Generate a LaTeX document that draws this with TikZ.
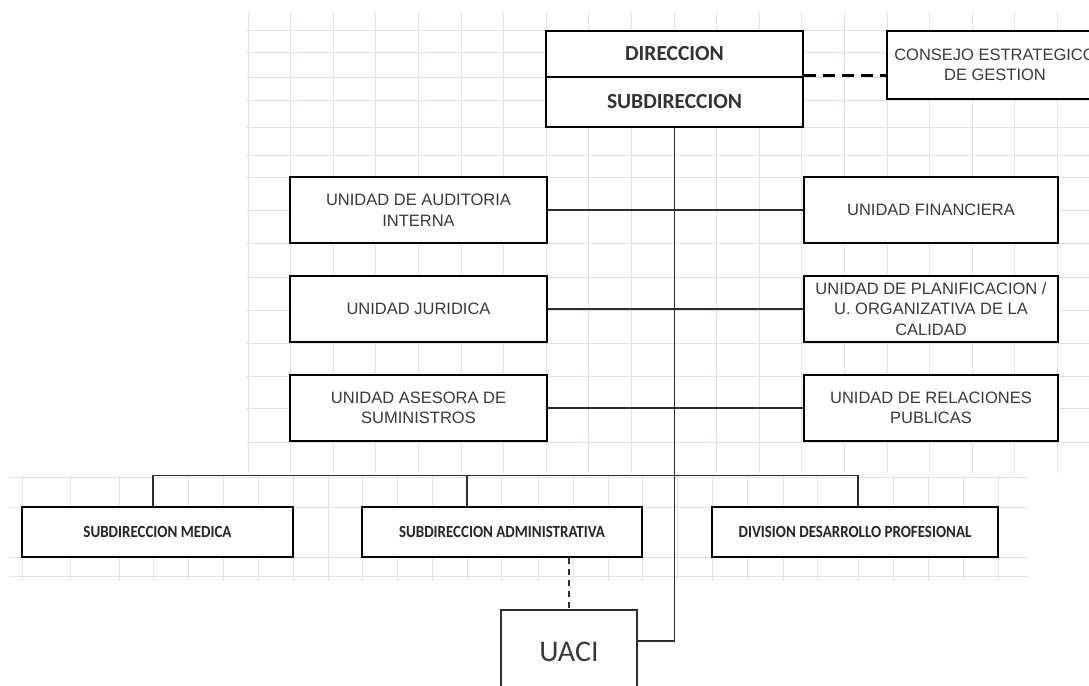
\documentclass[tikz,border=0pt]{standalone}
\usepackage{fontspec}
\setmainfont{Liberation Sans}
\newfontfamily\condfont[FakeStretch=0.88]{Carlito}
\newfontfamily\calfont{Carlito}
\definecolor{gridc}{HTML}{DFE2EA}
\definecolor{txt}{HTML}{3A3A3A}
\definecolor{linec}{HTML}{2E2E2E}
\begin{document}
\begin{tikzpicture}[x=1pt,y=-1pt,
  box/.style={draw=black, line width=2.6pt, fill=white, inner sep=0pt, align=center, text=txt, font=\fontsize{16.5}{20.5}\selectfont},
  headbox/.style={box, font=\calfont\bfseries\fontsize{21.5}{24}\selectfont, text=black!80},
  lowbox/.style={box, font=\condfont\bfseries\fontsize{17}{20}\selectfont, text=black!85},
  uacibox/.style={draw=linec, line width=1.5pt, fill=white, inner sep=0pt, font=\calfont\fontsize{30}{34}\selectfont, text=txt},
  conn/.style={draw=linec, line width=1.5pt},
  gridl/.style={draw=gridc, line width=1pt}]
\path[use as bounding box, clip] (0,0) rectangle (1089,685);
\fill[white] (0,0) rectangle (1089,685);
% grid (spreadsheet background)
\foreach \i in {0,...,19} \draw[gridl] ({248+42.6*\i},12) -- ({248+42.6*\i},473);
\foreach \y in {31,53,77,100,127,155,177,210,243,277,310,343,376,408,442} \draw[gridl] (246,\y) -- (1089,\y);
\foreach \y in {477,507,557,576} \draw[gridl] (9,\y) -- (1028,\y);
\foreach \x in {22,70,119,153,188,223,258,293,328,362,397,432,467,501,538,573,608,642,677,712,747,783,817,858,893,928,963,998} \draw[gridl] (\x,475) -- (\x,581);
% nodes
\node[headbox, minimum width=257pt, minimum height=46pt] (dir) at (674.5,54) {DIRECCION};
\node[headbox, minimum width=257pt, minimum height=50pt] (sub) at (674.5,102) {SUBDIRECCION};
\node[box, minimum width=216pt, minimum height=68pt] (cons) at (995,65) {CONSEJO ESTRATEGICO\\DE GESTION};
\node[box, minimum width=257pt, minimum height=66pt] (aud) at (418.5,210) {UNIDAD DE AUDITORIA\\INTERNA};
\node[box, minimum width=257pt, minimum height=66pt] (jur) at (418.5,309) {UNIDAD JURIDICA};
\node[box, minimum width=257pt, minimum height=66pt] (sum) at (418.5,408) {UNIDAD ASESORA DE\\SUMINISTROS};
\node[box, minimum width=254pt, minimum height=66pt] (fin) at (931,210) {UNIDAD FINANCIERA};
\node[box, minimum width=254pt, minimum height=66pt] (pla) at (931,309) {UNIDAD DE PLANIFICACION /\\U. ORGANIZATIVA DE LA\\CALIDAD};
\node[box, minimum width=254pt, minimum height=66pt] (rel) at (931,408) {UNIDAD DE RELACIONES\\PUBLICAS};
\node[lowbox, minimum width=271pt, minimum height=50pt] (med) at (157.5,532) {SUBDIRECCION MEDICA};
\node[lowbox, minimum width=280pt, minimum height=50pt] (sda) at (502,532) {SUBDIRECCION ADMINISTRATIVA};
\node[lowbox, minimum width=286pt, minimum height=50pt] (div) at (855,532) {DIVISION DESARROLLO PROFESIONAL};
\node[uacibox, minimum width=136pt, minimum height=84pt] (uaci) at (569,652) {UACI};
% helper coordinates
\coordinate (xm) at (153,0);
\coordinate (xs) at (467,0);
\coordinate (xd) at (858,0);
\coordinate (xu) at (569,0);
\coordinate (uj) at (637,641);
% connectors
\draw[black, line width=3pt, dash pattern=on 12pt off 7pt] (sub.north east) -- (sub.north east -| cons.west);
\draw[conn] (sub.south) |- (uj);
\draw[conn] (aud.east) -- (fin.west);
\draw[conn] (jur.east) -- (pla.west);
\draw[conn] (sum.east) -- (rel.west);
\draw[conn] (xm |- med.north) -- ++(0,-30) -| (xd |- div.north);
\draw[conn] (xs |- sda.north) -- ++(0,-30);
\draw[conn, line width=1.3pt, dash pattern=on 6pt off 5pt] (xu |- sda.south) -- (xu |- uaci.north);
\end{tikzpicture}
\end{document}
